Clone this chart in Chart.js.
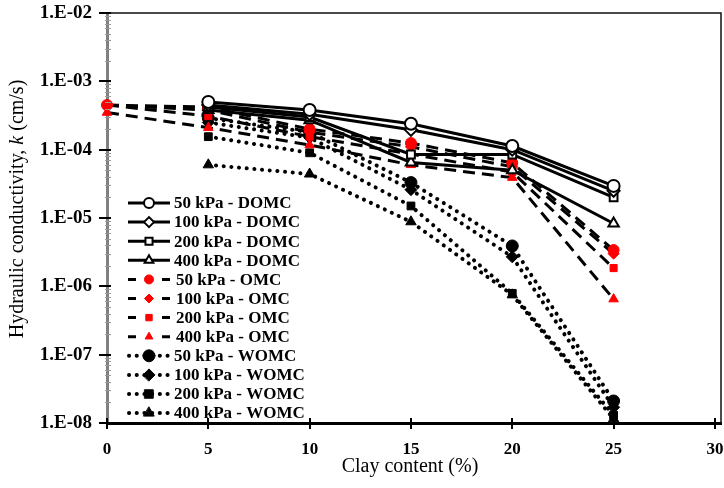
<!DOCTYPE html>
<html><head><meta charset="utf-8">
<script src="https://cdn.jsdelivr.net/npm/chart.js@4.4.0/dist/chart.umd.min.js"></script>
<style>html,body{margin:0;padding:0;background:#fff}</style>
</head><body>
<canvas id="c" width="724" height="488" style="display:block"></canvas>
<script>
// ---- data ----
const clayDOMC = [5, 10, 15, 20, 25];
const clayOMC  = [0, 5, 10, 15, 20, 25];
const clayWOMC = [5, 10, 15, 20, 25];

const domc50  = [5.0e-4, 3.8e-4, 2.4e-4, 1.13e-4, 2.95e-5];
const domc100 = [4.5e-4, 3.3e-4, 1.95e-4, 1.0e-4, 2.5e-5];
const domc200 = [4.2e-4, 3.0e-4, 8.5e-5, 8.5e-5, 2.0e-5];
const domc400 = [3.8e-4, 2.7e-4, 6.5e-5, 5.0e-5, 8.3e-6];

const omc50  = [4.5e-4, 4.2e-4, 2.0e-4, 1.25e-4, 6.4e-5, 3.4e-6];
const omc100 = [4.5e-4, 3.8e-4, 1.8e-4, 1.1e-4, 5.6e-5, 3.0e-6];
const omc200 = [4.5e-4, 3.1e-4, 1.55e-4, 8.6e-5, 4.7e-5, 1.85e-6];
const omc400 = [3.5e-4, 2.1e-4, 1.17e-4, 6.0e-5, 3.9e-5, 6.5e-7];

const womc50  = [2.9e-4, 1.8e-4, 3.3e-5, 3.9e-6, 2.1e-8];
const womc100 = [2.5e-4, 1.5e-4, 2.6e-5, 2.7e-6, 1.7e-8];
const womc200 = [1.55e-4, 9.0e-5, 1.5e-5, 7.9e-7, 1.3e-8];
const womc400 = [6.0e-5, 4.4e-5, 8.8e-6, 7.5e-7, 1.15e-8];

const xTicks = [0, 5, 10, 15, 20, 25, 30];
const yExponents = [-8, -7, -6, -5, -4, -3, -2];

const seriesNames = [
  '50 kPa - DOMC', '100 kPa - DOMC', '200 kPa - DOMC', '400 kPa - DOMC',
  '50 kPa - OMC', '100 kPa - OMC', '200 kPa - OMC', '400 kPa - OMC',
  '50 kPa - WOMC', '100 kPa - WOMC', '200 kPa - WOMC', '400 kPa - WOMC'
];
const seriesX = [clayDOMC, clayDOMC, clayDOMC, clayDOMC, clayOMC, clayOMC, clayOMC, clayOMC, clayWOMC, clayWOMC, clayWOMC, clayWOMC];
const seriesY = [domc50, domc100, domc200, domc400, omc50, omc100, omc200, omc400, womc50, womc100, womc200, womc400];

// ---- styles ----
const markers = ['circle', 'rectRot', 'rect', 'triangle'];
function styleFor(i) {
  const group = Math.floor(i / 4), m = markers[i % 4];
  const base = { borderColor: '#000', borderWidth: 3, pointStyle: m, clip: false, tension: 0 };
  const r = m === 'rect' ? 5.5 : 6;
  if (group === 0) return Object.assign(base, { borderDash: [], pointBackgroundColor: '#fff', pointBorderColor: '#000', pointBorderWidth: 2, pointRadius: r });
  if (group === 1) return Object.assign(base, { borderDash: [12, 7], pointBackgroundColor: '#ff0000', pointBorderColor: '#ff0000', pointBorderWidth: 1, pointRadius: r - 0.5 });
  return Object.assign(base, { borderDash: [0.1, 7.6], borderCapStyle: 'round', borderWidth: 4, pointBackgroundColor: '#000', pointBorderColor: '#000', pointBorderWidth: 1, pointRadius: r });
}

const datasets = seriesNames.map((name, i) => Object.assign({
  label: name,
  data: seriesX[i].map((xv, j) => ({ x: xv, y: seriesY[i][j] }))
}, styleFor(i)));

const SERIF = '"Liberation Serif", "Times New Roman", serif';
const legendRadius = [5, 4.5, 6];

const decor = {
  id: 'decor',
  afterDraw(chart) {
    const { ctx, chartArea: a, scales: { x, y } } = chart;
    ctx.save();
    ctx.setLineDash([]);
    // frame top & right
    ctx.strokeStyle = '#111'; ctx.lineWidth = 1.5;
    ctx.beginPath(); ctx.moveTo(a.left, a.top); ctx.lineTo(a.right, a.top); ctx.lineTo(a.right, a.bottom); ctx.stroke();
    // minor y ticks
    ctx.strokeStyle = '#9a9a9a'; ctx.lineWidth = 1;
    for (let e = -8; e < -2; e++) for (let m = 2; m <= 9; m++) {
      const py = Math.round(y.getPixelForValue(m * Math.pow(10, e))) + 0.5;
      ctx.beginPath(); ctx.moveTo(a.left - 2, py); ctx.lineTo(a.left + 4, py); ctx.stroke();
    }
    // major y ticks
    ctx.strokeStyle = '#000'; ctx.lineWidth = 2;
    yExponents.forEach(e => {
      const py = Math.round(y.getPixelForValue(Math.pow(10, e)));
      ctx.beginPath(); ctx.moveTo(a.left - 8, py); ctx.lineTo(a.left + 4, py); ctx.stroke();
    });
    // x ticks
    xTicks.forEach(v => {
      const px = Math.round(x.getPixelForValue(v));
      ctx.beginPath(); ctx.moveTo(px, a.bottom - 5); ctx.lineTo(px, a.bottom + 6); ctx.stroke();
    });
    // x title
    ctx.fillStyle = '#000';
    ctx.font = '20px ' + SERIF;
    ctx.textAlign = 'center'; ctx.textBaseline = 'middle';
    ctx.fillText('Clay content (%)', 410, 467);
    // y title with italic k
    const parts = [['Hydraulic conductivity, ', 'normal'], ['k', 'italic'], [' (cm/s)', 'normal']];
    let total = 0;
    parts.forEach(p => { ctx.font = p[1] + ' 20px ' + SERIF; total += ctx.measureText(p[0]).width; });
    ctx.translate(18, 209); ctx.rotate(-Math.PI / 2);
    ctx.textAlign = 'left';
    let cx = -total / 2;
    parts.forEach(p => { ctx.font = p[1] + ' 20px ' + SERIF; ctx.fillText(p[0], cx, 0); cx += ctx.measureText(p[0]).width; });
    ctx.restore();

    // legend
    ctx.save();
    chart.data.datasets.forEach((ds, i) => {
      const ry = 203 + i * 19.1;
      ctx.strokeStyle = ds.borderColor; ctx.lineWidth = ds.borderWidth;
      ctx.lineCap = ds.borderCapStyle || 'butt';
      const grp = Math.floor(i / 4);
      ctx.beginPath();
      if (grp === 1) {
        ctx.setLineDash([]);
        ctx.moveTo(128, ry); ctx.lineTo(136, ry); ctx.moveTo(162, ry); ctx.lineTo(170, ry);
      } else if (grp === 2) {
        ctx.setLineDash(ds.borderDash); ctx.lineDashOffset = 0;
        ctx.moveTo(129, ry); ctx.lineTo(171, ry);
      } else {
        ctx.setLineDash([]);
        ctx.moveTo(128, ry); ctx.lineTo(170, ry);
      }
      ctx.stroke();
      ctx.setLineDash([]);
      const lr = legendRadius[grp];
      ctx.fillStyle = ds.pointBackgroundColor; ctx.strokeStyle = ds.pointBorderColor; ctx.lineWidth = ds.pointBorderWidth;
      Chart.helpers.drawPoint(ctx, { pointStyle: ds.pointStyle, radius: lr, borderWidth: ds.pointBorderWidth, rotation: 0 }, 149, ry);
      ctx.fillStyle = '#000';
      ctx.font = 'bold 17px ' + SERIF;
      ctx.textAlign = 'left'; ctx.textBaseline = 'middle';
      ctx.fillText(ds.label, grp === 1 ? 176 : 174, ry + 1);
    });
    ctx.restore();
  }
};

new Chart(document.getElementById('c'), {
  type: 'line',
  data: { datasets },
  plugins: [decor],
  options: {
    responsive: false,
    animation: false,
    layout: { autoPadding: false, padding: { top: 13, right: 3, left: 0, bottom: 0 } },
    plugins: { legend: { display: false }, tooltip: { enabled: false } },
    elements: { line: { tension: 0 } },
    scales: {
      x: {
        type: 'linear', min: 0, max: 30.3,
        afterBuildTicks: s => { s.ticks = xTicks.map(v => ({ value: v })); },
        afterFit: s => { s.height = 65; s.paddingLeft = 0; s.paddingRight = 0; },
        grid: { display: true, drawOnChartArea: false, drawTicks: false },
        border: { display: true, color: '#000', width: 3 },
        ticks: { padding: 16, color: '#000', font: { family: SERIF, size: 17, weight: 'bold' }, maxRotation: 0, callback: v => String(v) }
      },
      y: {
        type: 'logarithmic', min: 1e-8, max: 1e-2,
        afterBuildTicks: s => { s.ticks = yExponents.map(e => ({ value: Math.pow(10, e) })); },
        afterFit: s => { s.width = 107; s.paddingTop = 0; s.paddingBottom = 0; },
        grid: { display: true, drawOnChartArea: false, drawTicks: false },
        border: { display: true, color: '#808080', width: 3 },
        ticks: {
          padding: 15, color: '#000', font: { family: SERIF, size: 19, weight: 'bold' },
          callback: v => { const e = Math.round(Math.log10(v)); return '1.E-' + String(-e).padStart(2, '0'); }
        }
      }
    }
  }
});
</script>
</body></html>
